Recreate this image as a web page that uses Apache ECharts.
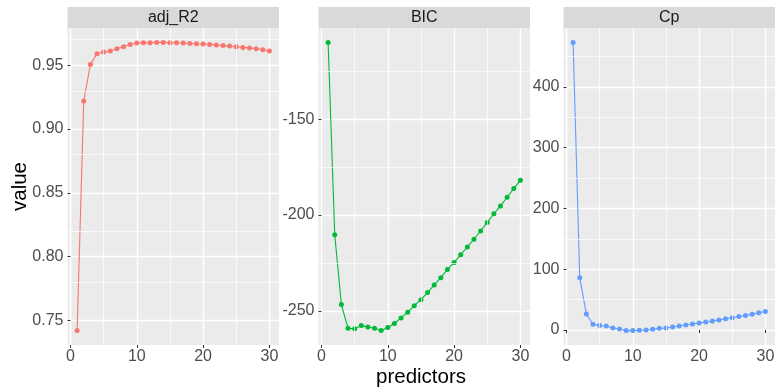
<!DOCTYPE html>
<html>
<head>
<meta charset="utf-8">
<script src="https://cdn.jsdelivr.net/npm/echarts@6/dist/echarts.min.js"></script>
<style>
html,body{margin:0;padding:0;background:#fff;}
#chart{width:778px;height:392px;}
</style>
</head>
<body>
<div id="chart"></div>
<script>
const predictors = [1,2,3,4,5,6,7,8,9,10,11,12,13,14,15,16,17,18,19,20,21,22,23,24,25,26,27,28,29,30];
const adjR2 = [0.742,0.922,0.9505,0.9591,0.9604,0.9611,0.9630,0.9645,0.9663,0.9674,0.9676,0.9676,0.9679,0.9679,0.9676,0.9676,0.9674,0.9671,0.9668,0.9666,0.9663,0.9658,0.9655,0.9650,0.9645,0.9640,0.9635,0.9630,0.9622,0.9611];
const bic = [-110,-210.3,-246.6,-259.0,-259.3,-257.6,-258.3,-259.0,-260.2,-258.6,-256.5,-253.6,-250.7,-247.2,-244.1,-240.4,-236.4,-232.6,-228.3,-224.7,-220.7,-216.6,-212.6,-208.3,-203.8,-199.3,-195.2,-190.7,-186.2,-181.9];
const cp = [473.4,86.1,26.2,9.3,7.2,6.6,3.3,1.6,-1.0,-1.0,-0.5,0,1.1,2.7,3.3,4.9,6.5,8.2,9.8,11.4,13.1,14.7,16.3,18.5,20.1,22.3,23.9,26.1,28.3,30.5];

const panelNames = ['adj_R2','BIC','Cp'];
const panelColors = ['#F8766D','#00BA38','#619CFF'];
const xTicks = [0,10,20,30];
const xMinor = [5,15,25];
const adjR2Ticks = [0.75,0.80,0.85,0.90,0.95];
const adjR2Minor = [0.775,0.825,0.875,0.925,0.975];
const bicTicks = [-250,-200,-150];
const bicMinor = [-225,-175,-125];
const cpTicks = [0,100,200,300,400];
const cpMinor = [50,150,250,350,450];
const xTitle = 'predictors';
const yTitle = 'value';

const values = [adjR2, bic, cp];
const yTicks = [adjR2Ticks, bicTicks, cpTicks];
const yMinor = [adjR2Minor, bicMinor, cpMinor];
const yFmt = [v => v.toFixed(2), v => String(v), v => String(v)];

function expand(arr){
  const lo = Math.min.apply(null, arr), hi = Math.max.apply(null, arr);
  const d = (hi - lo) * 0.05;
  return [lo - d, hi + d];
}
const xr = expand(predictors);

const FONT = '"Liberation Sans", Arial, Helvetica, sans-serif';
const gridLefts = [67.5, 318.5, 563.5];
const gridW = 211.5;
const gridTop = 28, gridBottomY = 345;

const grids = [], xAxes = [], yAxes = [], series = [], graphics = [];
for (let i = 0; i < 3; i++) {
  grids.push({left: gridLefts[i], top: gridTop, width: gridW, height: gridBottomY - gridTop,
    show: true, backgroundColor: '#EBEBEB', borderWidth: 0, containLabel: false});
  xAxes.push({type: 'value', gridIndex: i, min: xr[0], max: xr[1],
    axisLine: {show: false},
    axisTick: {show: true, length: 3, customValues: xTicks, lineStyle: {color: '#333333', width: 1}},
    axisLabel: {customValues: xTicks, color: '#4D4D4D', fontSize: 16, fontFamily: FONT, margin: 4},
    splitLine: {show: true, lineStyle: {color: '#FFFFFF', width: 1.4}}
  });
  const yr = expand(values[i]);
  yAxes.push({type: 'value', gridIndex: i, min: yr[0], max: yr[1],
    axisLine: {show: false},
    axisTick: {show: true, length: 3, customValues: yTicks[i], lineStyle: {color: '#333333', width: 1}},
    axisLabel: {customValues: yTicks[i], color: '#4D4D4D', fontSize: 16, fontFamily: FONT, margin: 4, formatter: yFmt[i]},
    splitLine: {show: true, lineStyle: {color: '#FFFFFF', width: 1.4}}
  });
  const pts = predictors.map((p, k) => [p, values[i][k]]);
  const minorData = xMinor.map(v => ({xAxis: v})).concat(yMinor[i].map(v => ({yAxis: v})));
  series.push({type: 'line', xAxisIndex: i, yAxisIndex: i, z: 1, data: pts, showSymbol: false,
    lineStyle: {width: 0, opacity: 0}, silent: true, animation: false, tooltip: {show: false},
    markLine: {silent: true, symbol: ['none','none'], label: {show: false}, animation: false,
      lineStyle: {color: '#FFFFFF', width: 0.7, type: 'solid', opacity: 1},
      emphasis: {disabled: true}, data: minorData}
  });
  series.push({type: 'line', name: panelNames[i], xAxisIndex: i, yAxisIndex: i, z: 3, data: pts,
    symbol: 'circle', symbolSize: 5, showAllSymbol: true,
    itemStyle: {color: panelColors[i]}, lineStyle: {color: panelColors[i], width: 1.1},
    animation: false});
  graphics.push({type: 'rect', shape: {x: gridLefts[i], y: 7, width: gridW, height: 21},
    style: {fill: '#D9D9D9'}, silent: true});
  graphics.push({type: 'text', x: gridLefts[i] + gridW / 2, y: 17.5,
    style: {text: panelNames[i], fill: '#1A1A1A', fontSize: 16, fontFamily: FONT, align: 'center', verticalAlign: 'middle'}, silent: true});
}
graphics.push({type: 'text', x: 421, y: 377,
  style: {text: xTitle, fill: '#000000', fontSize: 20.5, fontFamily: FONT, align: 'center', verticalAlign: 'middle'}, silent: true});
graphics.push({type: 'text', x: 20, y: 186.5, rotation: Math.PI / 2,
  style: {text: yTitle, fill: '#000000', fontSize: 20.5, fontFamily: FONT, align: 'center', verticalAlign: 'middle'}, silent: true});

const chart = echarts.init(document.getElementById('chart'), null, {renderer: 'canvas'});
chart.setOption({
  backgroundColor: '#FFFFFF',
  animation: false,
  grid: grids,
  xAxis: xAxes,
  yAxis: yAxes,
  series: series,
  graphic: graphics
});
</script>
</body>
</html>
